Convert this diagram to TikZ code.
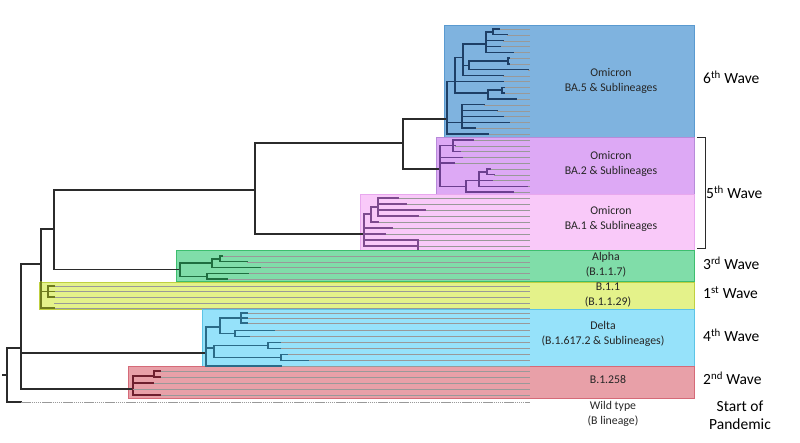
\documentclass[tikz,border=0pt]{standalone}
\usepackage{fontspec}
\setmainfont{Carlito}
\definecolor{bbc}{HTML}{2B2B2B}
\definecolor{c5f}{HTML}{7FB3DF}\definecolor{c5b}{HTML}{5A9AD0}\definecolor{c5t}{HTML}{1E3F66}
\definecolor{c2f}{HTML}{DDA9F5}\definecolor{c2b}{HTML}{B78BD9}\definecolor{c2t}{HTML}{6B3F8F}
\definecolor{c1f}{HTML}{F9C9F9}\definecolor{c1b}{HTML}{E8A8EE}\definecolor{c1t}{HTML}{7D4A8E}
\definecolor{cgf}{HTML}{80DDA9}\definecolor{cgb}{HTML}{3DBE6E}\definecolor{cgt}{HTML}{1F6E3F}
\definecolor{cyf}{HTML}{E4F28A}\definecolor{cyb}{HTML}{BFD040}\definecolor{cyt}{HTML}{6F7B1E}
\definecolor{ccf}{HTML}{96E2FA}\definecolor{ccb}{HTML}{5CC4E6}\definecolor{cct}{HTML}{2A6B88}
\definecolor{crf}{HTML}{E8A0A8}\definecolor{crb}{HTML}{D56A78}\definecolor{crt}{HTML}{6E1F2E}
\definecolor{txt}{HTML}{262626}
\newcommand\tlf[4]{\draw[leafline] (#3,#4) -- (530,#4); \draw[#1] (#2,#4) -- (#3,#4);}
\newcommand\tvt[4]{\draw[#1] (#2,#3) -- (#2,#4);}
\newcommand\thz[4]{\draw[#1] (#2,#4) -- (#3,#4);}
\tikzset{
  tr/.style={line width=1.4pt, line cap=rect},
  bb/.style={tr, draw=bbc},
  t5/.style={tr, draw=c5t}, t2/.style={tr, draw=c2t}, t1/.style={tr, draw=c1t},
  tg/.style={tr, draw=cgt}, ty/.style={tr, draw=cyt}, tc/.style={tr, draw=cct}, trd/.style={tr, draw=crt},
  leafline/.style={draw=black!40, line width=0.35pt},
  box/.style={line width=0.8pt},
  lbl/.style={align=center, inner sep=0pt, text=txt, font=\fontsize{11.8}{15}\selectfont},
  wave/.style={anchor=west, inner sep=0pt, text=black, font=\fontsize{15.5}{18.5}\selectfont}
}
\begin{document}
\begin{tikzpicture}[x=1pt,y=-1pt]
\useasboundingbox (0,0) rectangle (800,443);
% boxes
\filldraw[box, fill=c5f, draw=c5b] (444,25) rectangle (694,137);
\filldraw[box, fill=c2f, draw=c2b] (436,137) rectangle (694,194);
\filldraw[box, fill=c1f, draw=c1b] (360,194) rectangle (694,250);
\filldraw[box, fill=cgf, draw=cgb] (176,250) rectangle (694,281.5);
\filldraw[box, fill=cyf, draw=cyb] (39,282) rectangle (694,309);
\filldraw[box, fill=ccf, draw=ccb] (202,309) rectangle (694,366);
\filldraw[box, fill=crf, draw=crb] (128,366) rectangle (694,398);
% backbone
\draw[bb] (3,375) -- (7,375);
\tvt{bb}{7}{348}{402}
\thz{bb}{7}{21}{348}
\thz{bb}{7}{21}{402}
\draw[leafline, dash pattern=on 1.5pt off 0.6pt] (21,402) -- (530,402);
\tvt{bb}{21}{264}{389}
\thz{bb}{21}{41}{264}
\tvt{bb}{41}{229}{282}
\thz{bb}{41}{54}{229}
\tvt{bb}{54}{190}{269.5}
\thz{bb}{54}{255}{190}
\thz{bb}{54}{180}{269.5}
\tvt{bb}{255}{143}{234}
\thz{bb}{255}{403}{143}
\thz{bb}{255}{364}{234}
\tvt{bb}{403}{119}{169}
\thz{bb}{403}{447}{119}
\thz{bb}{403}{440}{169}
\thz{bb}{21}{206}{353}
\thz{bb}{21}{133}{389}
% BA.5
\tvt{t5}{447}{81.5}{134}
\tlf{t5}{447}{503}{81.5}
\tvt{t5}{455}{57.3}{93.2}
\thz{t5}{455}{463}{57.3}
\tvt{t5}{463}{44}{75.7}
\thz{t5}{463}{486}{44}
\tvt{t5}{486}{31.9}{52.3}
\thz{t5}{486}{493}{31.9}
\tvt{t5}{493}{29}{34.8}
\tlf{t5}{493}{499}{29}
\tlf{t5}{493}{507}{34.8}
\tlf{t5}{486}{503}{40.7}
\tlf{t5}{486}{500}{46.5}
\tlf{t5}{486}{513}{52.3}
\tvt{t5}{469}{61.1}{69.8}
\thz{t5}{463}{469}{65.5}
\thz{t5}{469}{508}{61.1}
\tvt{t5}{508}{58.2}{64}
\tlf{t5}{508}{509}{58.2}
\tlf{t5}{508}{509}{64}
\tlf{t5}{469}{528}{69.8}
\tlf{t5}{463}{503}{75.7}
\thz{t5}{455}{488}{93.2}
\tvt{t5}{488}{90.2}{99}
\thz{t5}{488}{502}{90.2}
\tvt{t5}{502}{87.3}{93.2}
\tlf{t5}{502}{504}{87.3}
\tlf{t5}{502}{504}{93.2}
\tlf{t5}{488}{516}{99}
\tlf{t5}{447}{509}{122.3}
\tvt{t5}{462}{104.8}{128.2}
\tlf{t5}{462}{484}{104.8}
\tlf{t5}{462}{497}{110.7}
\tlf{t5}{462}{503}{116.5}
\tlf{t5}{462}{475}{128.2}
\tlf{t5}{447}{488}{134}
% BA.2
\tvt{t2}{440}{145.8}{186.4}
\tlf{t2}{440}{455}{145.8}
\tvt{t2}{453}{140}{151.6}
\tlf{t2}{453}{473}{140}
\tlf{t2}{453}{460}{151.6}
\tlf{t2}{440}{462}{157.4}
\tlf{t2}{440}{454}{163.2}
\thz{t2}{440}{466}{186.4}
\tvt{t2}{466}{180.6}{192.2}
\tlf{t2}{466}{513}{192.2}
\tlf{t2}{466}{492}{180.6}
\tvt{t2}{479}{171.9}{186.4}
\tlf{t2}{479}{527}{186.4}
\thz{t2}{479}{487}{171.9}
\tvt{t2}{487}{169}{174.8}
\tlf{t2}{487}{490}{169}
\tlf{t2}{487}{494}{174.8}
% BA.1
\tvt{t1}{364}{214}{246}
\thz{t1}{364}{371}{214}
\tvt{t1}{371}{207}{222}
\tlf{t1}{371}{378}{222}
\thz{t1}{371}{378}{207}
\tvt{t1}{378}{198}{216}
\tlf{t1}{378}{398}{198}
\tlf{t1}{378}{406}{204}
\tlf{t1}{378}{425}{210}
\tlf{t1}{378}{418}{216}
\tlf{t1}{364}{392}{228}
\tlf{t1}{364}{385}{234}
\tlf{t1}{364}{418}{240}
\tlf{t1}{364}{418}{246}
\tvt{t1}{418}{240}{249}
% Alpha
\tvt{tg}{180}{263}{276.3}
\thz{tg}{180}{212}{263}
\tvt{tg}{212}{259}{267.3}
\tlf{tg}{212}{260}{267.3}
\thz{tg}{212}{220}{259}
\tvt{tg}{220}{256}{261.7}
\tlf{tg}{220}{222}{256}
\tlf{tg}{220}{247}{261.7}
\thz{tg}{180}{207}{276.3}
\tvt{tg}{207}{273.3}{279}
\tlf{tg}{207}{248}{273.3}
\tlf{tg}{207}{227}{279}
% B.1.1
\tvt{ty}{41}{282}{308}
\thz{ty}{41}{48}{291.5}
\tvt{ty}{48}{286}{297}
\tlf{ty}{48}{54}{286}
\tlf{ty}{48}{54}{291.5}
\tlf{ty}{48}{54}{297}
\draw[leafline] (54,303) -- (530,303);
\tlf{ty}{41}{54}{308}
% Delta
\tvt{tc}{206}{327}{366}
\thz{tc}{206}{220}{327}
\tvt{tc}{220}{318}{333.5}
\thz{tc}{220}{241}{318}
\tvt{tc}{241}{313}{323}
\tlf{tc}{241}{247}{313}
\tlf{tc}{241}{247}{318}
\tlf{tc}{241}{247}{323}
\thz{tc}{220}{235}{333.5}
\tvt{tc}{235}{330.5}{336.5}
\tlf{tc}{235}{274}{330.5}
\tlf{tc}{235}{249}{336.5}
\thz{tc}{206}{214}{348}
\tvt{tc}{214}{345.5}{357.5}
\thz{tc}{214}{268}{345.5}
\tvt{tc}{268}{342.5}{348.5}
\tlf{tc}{268}{280}{342.5}
\tlf{tc}{268}{280}{348.5}
\thz{tc}{214}{281}{357.5}
\tvt{tc}{281}{354.5}{360.5}
\tlf{tc}{281}{287}{354.5}
\tlf{tc}{281}{308}{360.5}
\tlf{tc}{206}{281}{366}
% B.1.258
\tvt{trd}{133}{376}{395}
\thz{trd}{133}{154}{376}
\tvt{trd}{154}{371}{377}
\tlf{trd}{154}{160}{371}
\tlf{trd}{154}{160}{377}
\tlf{trd}{133}{153}{383}
\draw[leafline] (133,389) -- (530,389);
\tlf{trd}{133}{160}{395}
% bracket
\draw[line width=0.8pt, draw=bbc] (697,137) -- (705,137) -- (705,248) -- (697,248);
% labels
\node[lbl] (ba5) at (611,81) {Omicron\\BA.5 \& Sublineages};
\node[lbl] (ba2) at (611,164) {Omicron\\BA.2 \& Sublineages};
\node[lbl] (ba1) at (611,219) {Omicron\\BA.1 \& Sublineages};
\node[lbl] (alpha) at (606,265) {Alpha\\(B.1.1.7)};
\node[lbl] (b11) at (608,295) {B.1.1\\(B.1.1.29)};
\node[lbl] (delta) at (603,334) {Delta\\(B.1.617.2 \& Sublineages)};
\node[lbl] (b1258) at (608,379.5) {B.1.258};
\node[lbl] (wild) at (613,414) {Wild type\\(B lineage)};
\node[wave] (w6) at (703,77) {6\textsuperscript{th} Wave};
\node[wave] (w5) at (706,192) {5\textsuperscript{th} Wave};
\node[wave] (w3) at (703,263) {3\textsuperscript{rd} Wave};
\node[wave] (w1) at (703,293) {1\textsuperscript{st} Wave};
\node[wave] (w4) at (703,335) {4\textsuperscript{th} Wave};
\node[wave] (w2) at (703,378) {2\textsuperscript{nd} Wave};
\node[wave, anchor=center, align=center] (start) at (740,415) {Start of\\Pandemic};
\end{tikzpicture}
\end{document}
